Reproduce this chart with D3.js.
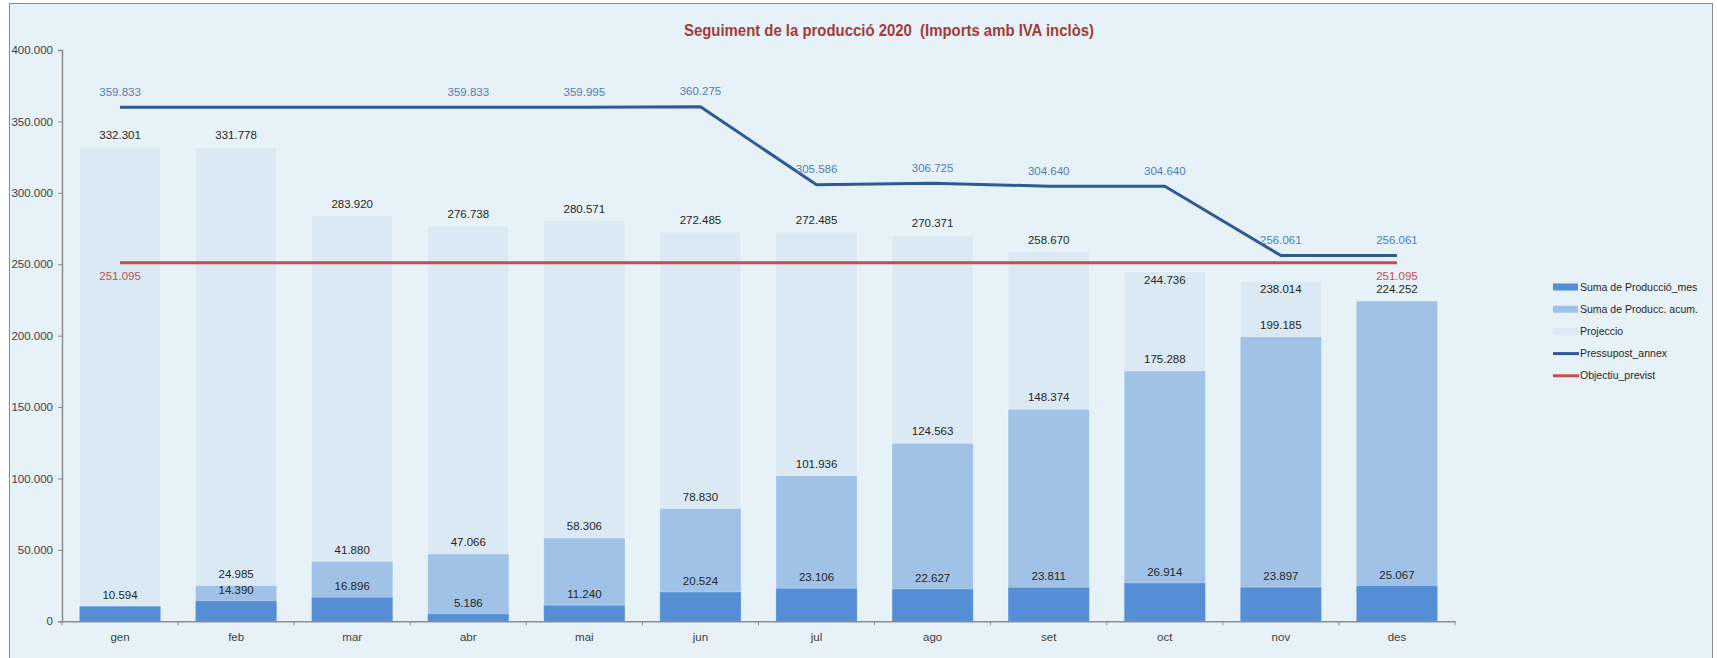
<!DOCTYPE html>
<html>
<head>
<meta charset="utf-8">
<script src="https://cdn.jsdelivr.net/npm/d3@7/dist/d3.min.js"></script>
<style>
  html, body { margin: 0; padding: 0; background: #ffffff; }
  svg { display: block; }
  text { font-family: "Liberation Sans", Arial, sans-serif; }
</style>
</head>
<body>
<svg id="chart" width="1717" height="658"></svg>
<script>
// ---- data ----
const months = ["gen","feb","mar","abr","mai","jun","jul","ago","set","oct","nov","des"];
const produccioMes = [10594, 14390, 16896, 5186, 11240, 20524, 23106, 22627, 23811, 26914, 23897, 25067];
const produccioAcum = [10594, 24985, 41880, 47066, 58306, 78830, 101936, 124563, 148374, 175288, 199185, 224252];
const projeccio = [332301, 331778, 283920, 276738, 280571, 272485, 272485, 270371, 258670, 244736, 238014, null];
const pressupost = [359833, 359833, 359833, 359833, 359995, 360275, 305586, 306725, 304640, 304640, 256061, 256061];
const pressupostLabelShown = [true, false, false, true, true, true, true, true, true, true, true, true];
const objectiu = [251095, 251095, 251095, 251095, 251095, 251095, 251095, 251095, 251095, 251095, 251095, 251095];
const objectiuLabelShown = [true, false, false, false, false, false, false, false, false, false, false, true];
const yTicks = [0, 50000, 100000, 150000, 200000, 250000, 300000, 350000, 400000];
const legendItems = ["Suma de Producció_mes", "Suma de Producc. acum.", "Projeccio", "Pressupost_annex", "Objectiu_previst"];
const titleText = "Seguiment de la producció 2020  (Imports amb IVA inclòs)";

// ---- styles ----
const C = {
  bg: "#E7F2F8", mes: "#558ED5", acum: "#A0C2E6", proj: "#DAE9F4",
  press: "#2F5B93", obj: "#C0504D", pressLabel: "#4F7DB5", objLabel: "#C0504D",
  axis: "#8C8C8C", text: "#262626", title: "#A33A3A"
};
const fmt = v => d3.format(",")(v).replace(/,/g, ".");

const svg = d3.select("#chart");
// chart area background & border
svg.append("rect").attr("x", 9.5).attr("y", 3.5).attr("width", 1703).attr("height", 660)
  .attr("fill", C.bg).attr("stroke", "#8a8a8a").attr("stroke-width", 1);

const x0 = 62, x1 = 1455, yTop = 50, yBottom = 621.3;
const x = d3.scaleBand().domain(months).range([x0, x1]).paddingInner(0.3).paddingOuter(0.15);
const y = d3.scaleLinear().domain([0, 400000]).range([yBottom, yTop]);
const cx = m => x(m) + x.bandwidth() / 2;

// title
svg.append("text").attr("x", 889).attr("y", 36).attr("text-anchor", "middle")
  .style("white-space", "pre")
  .attr("font-size", 16).attr("font-weight", "bold").attr("fill", C.title)
  .attr("textLength", 410).attr("lengthAdjust", "spacingAndGlyphs")
  .text(titleText);

// bars (overlapping, Excel-style)
const g = svg.append("g");
function bars(vals, color, cls) {
  g.selectAll("rect." + cls).data(months.map((m, i) => ({ m, v: vals[i] })).filter(d => d.v != null))
    .join("rect").attr("class", cls)
    .attr("x", d => x(d.m)).attr("width", x.bandwidth())
    .attr("y", d => y(d.v)).attr("height", d => y(0) - y(d.v))
    .attr("fill", color).attr("stroke", "rgba(255,255,255,0.35)").attr("stroke-width", 0.8);
}
bars(projeccio, C.proj, "proj");
bars(produccioAcum, C.acum, "acum");
bars(produccioMes, C.mes, "mes");

// axes
const yAxis = d3.axisLeft(y).tickValues(yTicks).tickSize(4).tickPadding(5).tickFormat(fmt);
const ya = svg.append("g").attr("transform", `translate(${x0},0)`).call(yAxis);
ya.select(".domain").attr("stroke", C.axis).attr("stroke-width", 1.5);
ya.selectAll(".tick line").attr("stroke", C.axis);
ya.selectAll(".tick text").attr("font-size", 11.5).attr("fill", "#404040")
  .attr("font-family", "Liberation Sans, Arial, sans-serif");

const xAxis = d3.axisBottom(x).tickSize(0).tickPadding(12);
const xa = svg.append("g").attr("transform", `translate(0,${yBottom})`).call(xAxis);
xa.select(".domain").attr("stroke", C.axis).attr("stroke-width", 1.5);
xa.selectAll(".tick text").attr("font-size", 11.5).attr("fill", "#404040")
  .attr("font-family", "Liberation Sans, Arial, sans-serif");
// boundary tick marks
xa.selectAll("line.bt").data(d3.range(months.length + 1)).join("line").attr("class", "bt")
  .attr("x1", i => x0 + i * (x1 - x0) / months.length).attr("x2", i => x0 + i * (x1 - x0) / months.length)
  .attr("y1", 0).attr("y2", 4).attr("stroke", C.axis);

// lines
const line = d3.line().x((d, i) => cx(months[i])).y(d => y(d));
svg.append("path").datum(objectiu).attr("d", line).attr("fill", "none")
  .attr("stroke", C.obj).attr("stroke-width", 3);
svg.append("path").datum(pressupost).attr("d", line).attr("fill", "none")
  .attr("stroke", C.press).attr("stroke-width", 3).attr("stroke-linejoin", "round");

// labels
const lbl = svg.append("g").attr("font-size", 11.5).attr("text-anchor", "middle");
const objY = y(objectiu[0]);
projeccio.forEach((v, i) => {
  if (v == null) return;
  let ly = y(v) - 12;
  if (Math.abs(ly - objY) < 8) ly = y(v) + 8; // avoid the target line: place inside bar
  lbl.append("text").attr("x", cx(months[i])).attr("y", ly).attr("dy", "0.35em").attr("fill", C.text).text(fmt(v));
});
produccioAcum.forEach((v, i) => {
  if (v === produccioMes[i]) return;
  lbl.append("text").attr("x", cx(months[i])).attr("y", y(v) - 12).attr("dy", "0.35em").attr("fill", C.text).text(fmt(v));
});
produccioMes.forEach((v, i) => {
  lbl.append("text").attr("x", cx(months[i])).attr("y", y(v) - 11).attr("dy", "0.35em").attr("fill", C.text).text(fmt(v));
});
pressupost.forEach((v, i) => {
  if (!pressupostLabelShown[i]) return;
  lbl.append("text").attr("x", cx(months[i])).attr("y", y(v) - 15.5).attr("dy", "0.35em").attr("fill", C.pressLabel).text(fmt(v));
});
objectiu.forEach((v, i) => {
  if (!objectiuLabelShown[i]) return;
  lbl.append("text").attr("x", cx(months[i])).attr("y", y(v) + 13.5).attr("dy", "0.35em").attr("fill", C.objLabel).text(fmt(v));
});

// legend
const leg = svg.append("g").attr("transform", "translate(1553,287)");
const legStyles = [
  { type: "rect", c: C.mes }, { type: "rect", c: C.acum }, { type: "rect", c: C.proj },
  { type: "line", c: C.press }, { type: "line", c: C.obj }
];
legendItems.forEach((name, i) => {
  const gy = i * 22.2;
  const s = legStyles[i];
  if (s.type === "rect") leg.append("rect").attr("x", 0).attr("y", gy - 3.5).attr("width", 25).attr("height", 7).attr("fill", s.c);
  else leg.append("line").attr("x1", 0).attr("x2", 26).attr("y1", gy).attr("y2", gy).attr("stroke", s.c).attr("stroke-width", 3);
  leg.append("text").attr("x", 27).attr("y", gy).attr("dy", "0.35em").attr("font-size", 10.5).attr("fill", C.text).text(name);
});
</script>
</body>
</html>
